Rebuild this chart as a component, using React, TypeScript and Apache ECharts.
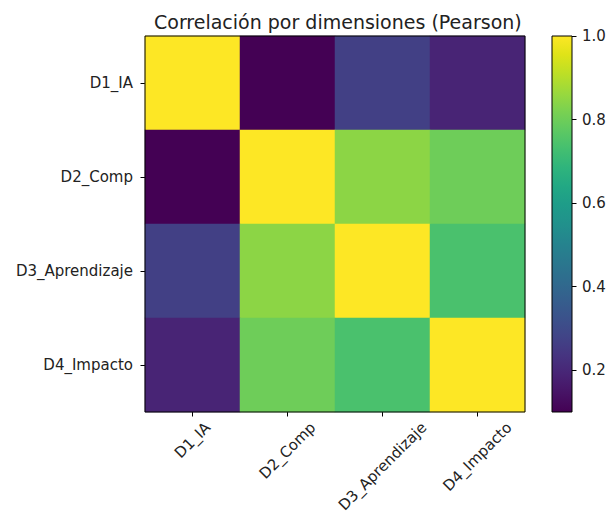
import React, { useEffect, useRef } from "react";
import * as echarts from "echarts";

const dims = ["D1_IA", "D2_Comp", "D3_Aprendizaje", "D4_Impacto"];
const rowD1 = [1.0, 0.1, 0.27, 0.19];
const rowD2 = [0.1, 1.0, 0.845, 0.8];
const rowD3 = [0.27, 0.845, 1.0, 0.74];
const rowD4 = [0.19, 0.8, 0.74, 1.0];
const matrix = [rowD1, rowD2, rowD3, rowD4];
const colorbarTicks = [0.2, 0.4, 0.6, 0.8, 1.0];
const titleText = "Correlación por dimensiones (Pearson)";

const viridis = [
  "#440154", "#471365", "#482475", "#463480", "#414487", "#3b528b", "#355f8d",
  "#2f6c8e", "#2a788e", "#25848e", "#21918c", "#1e9c89", "#22a884", "#2fb47c",
  "#44bf70", "#5ec962", "#7ad151", "#9bd93c", "#bddf26", "#dfe318", "#fde725",
];

export default function App() {
  const ref = useRef<HTMLDivElement>(null);
  useEffect(() => {
    if (!ref.current) return;
    const chart = echarts.init(ref.current, undefined, { renderer: "svg" });
    const flat = matrix.flat();
    const vmin = Math.min(...flat);
    const vmax = Math.max(...flat);
    const data: [number, number, number][] = [];
    matrix.forEach((row, r) => row.forEach((v, c) => data.push([c, r, v])));

    const font = "DejaVu Sans";
    const textColor = "#222";
    const fs = 15;
    const gL = 145, gT = 36, gW = 380, gH = 376;
    const cL = 552, cW = 20;

    // measure label widths so rotated labels are centred under ticks (matplotlib style)
    const ctx = document.createElement("canvas").getContext("2d")!;
    ctx.font = `${fs}px "${font}"`;
    const rich: Record<string, any> = {};
    dims.forEach((d, i) => {
      const w = ctx.measureText(d).width;
      const p = 0.5 * w;
      rich["l" + i] = {
        fontSize: fs,
        fontFamily: font,
        color: textColor,
        padding: [p, p, 0, 0],
      };
    });

    chart.setOption({
      animation: false,
      backgroundColor: "#fff",
      textStyle: { fontFamily: font },
      title: {
        text: titleText,
        left: 149,
        top: 7,
        textStyle: { fontFamily: font, fontSize: 19, fontWeight: "normal", color: textColor },
      },
      grid: [
        { left: gL, top: gT, width: gW, height: gH, show: true, borderColor: "#000", borderWidth: 1, backgroundColor: "transparent", z: 5 },
        { left: cL, top: gT, width: cW, height: gH, show: true, borderColor: "#000", borderWidth: 1, backgroundColor: "transparent", z: 5 },
      ],
      xAxis: [
        {
          gridIndex: 0,
          type: "category",
          data: dims,
          axisLine: { show: false },
          axisTick: { show: true, alignWithLabel: true, length: 4.5, lineStyle: { color: "#000" } },
          axisLabel: {
            rotate: 45,
            margin: 13,
            align: "center",
            verticalAlign: "middle",
            fontSize: fs,
            color: textColor,
            fontFamily: font,
            formatter: (v: string, i: number) => `{l${i}|${v}}`,
            rich,
          },
          splitLine: { show: false },
        },
        { gridIndex: 1, type: "category", data: [""], show: false },
      ],
      yAxis: [
        {
          gridIndex: 0,
          type: "category",
          data: dims,
          inverse: true,
          axisLine: { show: false },
          axisTick: { show: true, alignWithLabel: true, length: 4.5, lineStyle: { color: "#000" } },
          axisLabel: { margin: 12, fontSize: fs, color: textColor, fontFamily: font },
          splitLine: { show: false },
        },
        {
          gridIndex: 1,
          type: "value",
          position: "right",
          min: vmin,
          max: vmax,
          axisLine: { show: false },
          axisTick: { show: true, length: 4.5, lineStyle: { color: "#000" }, customValues: colorbarTicks },
          axisLabel: {
            margin: 10,
            fontSize: fs,
            color: textColor,
            fontFamily: font,
            customValues: colorbarTicks,
            formatter: (v: number) => v.toFixed(1),
          },
          splitLine: { show: false },
        },
      ],
      visualMap: {
        show: false,
        type: "continuous",
        min: vmin,
        max: vmax,
        seriesIndex: 0,
        inRange: { color: viridis },
      },
      graphic: [
        {
          type: "rect",
          z: 1,
          shape: { x: cL, y: gT, width: cW, height: gH },
          style: {
            fill: new echarts.graphic.LinearGradient(
              0, 1, 0, 0,
              viridis.map((c, i) => ({ offset: i / (viridis.length - 1), color: c }))
            ),
          },
        },
      ],
      series: [
        {
          type: "heatmap",
          xAxisIndex: 0,
          yAxisIndex: 0,
          data,
          itemStyle: { borderWidth: 0 },
          emphasis: { disabled: true },
        },
      ],
    });
    return () => chart.dispose();
  }, []);
  return (
    <div
      ref={ref}
      style={{ position: "fixed", left: 0, top: 0, width: 609, height: 522 }}
    />
  );
}
